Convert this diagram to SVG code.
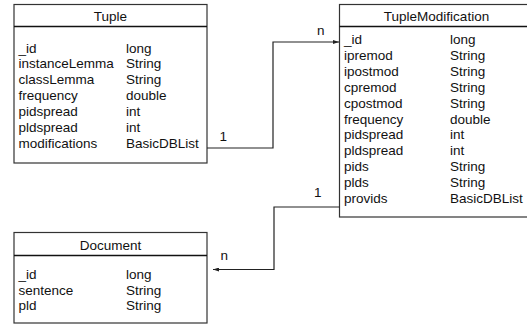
<svg xmlns="http://www.w3.org/2000/svg" width="527" height="327" viewBox="0 0 527 327">
  <defs>
    <style>
      text { font-family: "Liberation Sans", Arial, sans-serif; font-size: 13.5px; fill: #111; }
      .title { text-anchor: middle; }
      .box { fill: #fff; stroke: #333; stroke-width: 1.2; }
      .sep { stroke: #111; stroke-width: 1.6; }
      .wire { fill: none; stroke: #222; stroke-width: 1.2; }
    </style>
    <marker id="arrow" viewBox="0 0 6 4" refX="6" refY="2" markerWidth="6" markerHeight="4" markerUnits="userSpaceOnUse" orient="auto">
      <path d="M0,0 L6,2 L0,4 Z" fill="#222"/>
    </marker>
  </defs>

  <rect width="527" height="327" fill="#fff"/>

  <!-- Tuple collection -->
  <g id="tuple">
    <rect class="box" x="14" y="4.5" width="193" height="158.5"/>
    <line class="sep" x1="14" y1="26.5" x2="207" y2="26.5"/>
    <text class="title" x="110.5" y="21">Tuple</text>
    <text x="18.5" y="52.5">_id</text><text x="126" y="52.5">long</text>
    <text x="18.5" y="68.4">instanceLemma</text><text x="126" y="68.4">String</text>
    <text x="18.5" y="84.3">classLemma</text><text x="126" y="84.3">String</text>
    <text x="18.5" y="100.2">frequency</text><text x="126" y="100.2">double</text>
    <text x="18.5" y="116.1">pidspread</text><text x="126" y="116.1">int</text>
    <text x="18.5" y="132">pldspread</text><text x="126" y="132">int</text>
    <text x="18.5" y="147.9">modifications</text><text x="126" y="147.9">BasicDBList</text>
  </g>

  <!-- TupleModification collection -->
  <g id="tuple-modification">
    <rect class="box" x="339.5" y="4.5" width="194" height="212.5"/>
    <line class="sep" x1="339.5" y1="26.5" x2="533.5" y2="26.5"/>
    <text class="title" x="436.5" y="21">TupleModification</text>
    <text x="344" y="44">_id</text><text x="450" y="44">long</text>
    <text x="344" y="59.9">ipremod</text><text x="450" y="59.9">String</text>
    <text x="344" y="75.8">ipostmod</text><text x="450" y="75.8">String</text>
    <text x="344" y="91.7">cpremod</text><text x="450" y="91.7">String</text>
    <text x="344" y="107.6">cpostmod</text><text x="450" y="107.6">String</text>
    <text x="344" y="123.5">frequency</text><text x="450" y="123.5">double</text>
    <text x="344" y="139.4">pidspread</text><text x="450" y="139.4">int</text>
    <text x="344" y="155.3">pldspread</text><text x="450" y="155.3">int</text>
    <text x="344" y="171.2">pids</text><text x="450" y="171.2">String</text>
    <text x="344" y="187.1">plds</text><text x="450" y="187.1">String</text>
    <text x="344" y="203">provids</text><text x="450" y="203">BasicDBList</text>
  </g>

  <!-- Document collection -->
  <g id="document">
    <rect class="box" x="14" y="232.5" width="193" height="90.5"/>
    <line class="sep" x1="14" y1="255.5" x2="207" y2="255.5"/>
    <text class="title" x="110.5" y="250">Document</text>
    <text x="18.5" y="279">_id</text><text x="126" y="279">long</text>
    <text x="18.5" y="294.5">sentence</text><text x="126" y="294.5">String</text>
    <text x="18.5" y="310">pld</text><text x="126" y="310">String</text>
  </g>

  <!-- Relations -->
  <g id="connectors">
    <polyline class="wire" points="207,148 273,148 273,42 339,42" marker-end="url(#arrow)"/>
    <text x="219.5" y="141">1</text>
    <text x="317" y="35">n</text>
    <polyline class="wire" points="339.5,207 274,207 274,269.5 213,269.5" marker-end="url(#arrow)"/>
    <text x="314" y="197">1</text>
    <text x="220.5" y="260">n</text>
  </g>
</svg>
